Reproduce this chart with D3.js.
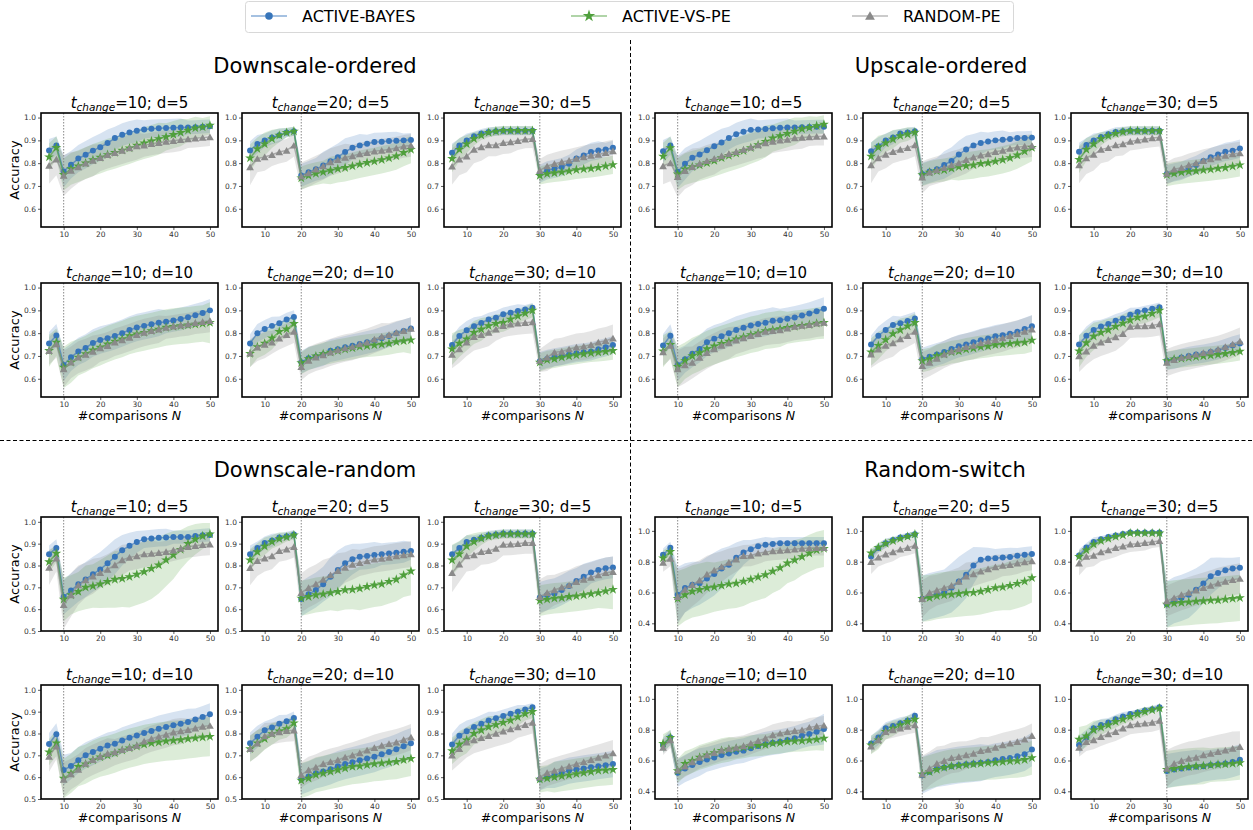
<!DOCTYPE html>
<html><head><meta charset="utf-8">
<script src="https://cdn.jsdelivr.net/npm/d3@7"></script>
<style>body{margin:0;background:#fff}svg{display:block}text{font-family:"DejaVu Sans",sans-serif}</style>
</head><body><svg id="c" width="1253" height="830"></svg>
<script>
// ---------- categories / ticks ----------
const N_VALUES = [6,8,10,12,14,16,18,20,22,24,26,28,30,32,34,36,38,40,42,44,46,48,50];
const SERIES = ["ACTIVE-BAYES","ACTIVE-VS-PE","RANDOM-PE"];
const GROUPS = ["Downscale-ordered","Upscale-ordered","Downscale-random","Random-switch"];
const T_CHANGE = [10,20,30];
const D_VALUES = [5,10];
const X_TICKS = [10,20,30,40,50];
const Y_TICKS_ORD = [0.6,0.7,0.8,0.9,1.0];
const Y_TICKS_DR = [0.5,0.6,0.7,0.8,0.9,1.0];
const Y_TICKS_RS = [0.4,0.6,0.8,1.0];

// ---------- Downscale-ordered (means) ----------
const do10d5_b=[.856,.877,.764,.793,.82,.837,.855,.87,.888,.91,.925,.935,.942,.948,.951,.953,.954,.955,.956,.957,.958,.96,.962];
const do10d5_v=[.827,.868,.75,.775,.787,.8,.814,.825,.837,.846,.856,.866,.878,.888,.897,.907,.915,.925,.934,.944,.954,.958,.966];
const do10d5_r=[.79,.817,.746,.768,.783,.8,.812,.824,.837,.846,.856,.866,.875,.878,.885,.89,.895,.898,.903,.906,.909,.912,.915];
const do20d5_b=[.856,.884,.9,.913,.922,.934,.94,.746,.76,.773,.79,.808,.826,.849,.868,.878,.885,.893,.894,.897,.898,.9,.902];
const do20d5_v=[.822,.863,.884,.907,.922,.934,.94,.735,.746,.754,.761,.768,.775,.78,.787,.795,.802,.808,.815,.822,.831,.846,.86];
const do20d5_r=[.783,.82,.827,.837,.849,.856,.878,.743,.757,.773,.787,.805,.815,.825,.831,.84,.846,.852,.856,.86,.866,.874,.878];
const do30d5_b=[.846,.878,.9,.918,.93,.937,.94,.942,.942,.942,.942,.942,.753,.768,.775,.783,.797,.82,.834,.849,.856,.86,.868];
const do30d5_v=[.82,.86,.884,.907,.922,.934,.94,.943,.943,.943,.943,.943,.746,.753,.757,.761,.765,.771,.774,.777,.781,.787,.793];
const do30d5_r=[.786,.817,.83,.86,.871,.88,.88,.89,.893,.898,.905,.907,.768,.787,.797,.805,.812,.82,.827,.834,.838,.846,.853];
const do10d10_b=[.755,.79,.66,.694,.72,.735,.757,.77,.778,.788,.8,.814,.825,.832,.839,.846,.85,.856,.862,.87,.879,.888,.9];
const do10d10_v=[.723,.76,.65,.672,.694,.709,.726,.738,.752,.764,.774,.788,.796,.803,.81,.817,.825,.829,.832,.835,.839,.842,.846];
const do10d10_r=[.723,.752,.643,.672,.694,.706,.72,.735,.745,.76,.77,.781,.793,.803,.81,.817,.825,.83,.835,.839,.846,.85,.854];
const do20d10_b=[.755,.8,.818,.832,.843,.86,.871,.673,.69,.697,.706,.723,.73,.738,.745,.752,.76,.767,.778,.788,.8,.81,.82];
const do20d10_v=[.71,.74,.755,.778,.807,.818,.842,.67,.687,.699,.709,.716,.723,.729,.735,.741,.745,.748,.751,.755,.762,.766,.77];
const do20d10_r=[.712,.738,.75,.76,.778,.793,.807,.653,.68,.694,.704,.716,.726,.735,.741,.752,.76,.773,.785,.793,.803,.81,.82];
const do30d10_b=[.748,.788,.813,.83,.845,.86,.868,.883,.89,.897,.904,.912,.677,.687,.694,.699,.706,.712,.716,.72,.73,.738,.748];
const do30d10_v=[.73,.755,.774,.803,.817,.832,.842,.846,.861,.875,.887,.9,.672,.683,.687,.694,.699,.704,.709,.713,.716,.719,.723];
const do30d10_r=[.706,.73,.76,.784,.793,.803,.817,.832,.839,.843,.846,.849,.68,.694,.716,.72,.73,.738,.742,.749,.76,.767,.778];
// Downscale-ordered (band half-widths, hundredths)
const do10d5_sb=[5,4,7,6,6,6,6,6,6,5,5,5,5,4,4,4,4,4,4,3,3,3,3];
const do10d5_sv=[6,5,7,7,7,7,7,7,7,7,7,7,7,7,7,7,6,6,6,5,5,4,4];
const do10d5_sr=[8,7,9,8,7,7,7,6,6,6,6,6,6,5,5,5,5,5,5,4,4,4,4];
const do20d5_sb=[4,4,3,3,3,2,2,5,5,5,6,6,6,6,5,5,4,4,4,4,4,3,3];
const do20d5_sv=[6,5,5,4,3,2,2,5,5,5,5,6,6,6,6,6,6,6,6,6,6,6,6];
const do20d5_sr=[8,6,6,5,5,5,5,6,6,6,6,6,6,6,5,5,5,5,5,5,5,5,5];
const do30d5_sb=[4,3,3,2,2,2,2,2,2,2,2,2,4,4,4,4,4,4,4,4,4,3,3];
const do30d5_sv=[6,5,4,3,2,2,2,2,2,2,2,2,4,4,4,4,4,4,4,4,4,4,4];
const do30d5_sr=[8,7,7,6,6,5,5,5,5,4,4,4,5,5,5,5,5,5,5,5,5,5,5];
const do10d10_sb=[5,5,7,6,6,6,6,6,6,6,6,6,6,6,6,6,5,5,5,5,5,5,5];
const do10d10_sv=[7,6,9,9,8,8,8,8,8,8,8,8,8,8,8,8,8,8,8,8,8,8,9];
const do10d10_sr=[6,6,8,7,7,7,7,6,6,6,6,6,6,6,6,6,5,5,5,5,5,5,5];
const do20d10_sb=[4,4,4,4,3,3,3,5,5,5,5,5,5,5,5,5,5,5,5,5,5,5,5];
const do20d10_sv=[6,5,5,5,4,4,4,5,5,5,5,5,5,5,5,5,5,5,5,5,5,5,6];
const do20d10_sr=[6,6,6,5,5,5,5,6,6,6,6,6,6,6,6,6,6,6,6,5,5,5,5];
const do30d10_sb=[4,4,4,4,3,3,3,3,3,3,2,2,4,4,4,4,4,4,4,4,4,4,4];
const do30d10_sv=[7,6,5,5,5,4,4,4,4,3,3,3,4,4,4,4,4,4,4,4,4,4,4];
const do30d10_sr=[6,6,6,6,6,6,5,5,5,5,5,5,5,6,6,6,6,6,6,6,6,6,6];

// ---------- Upscale-ordered ----------
const uo10d5_b=[.852,.877,.762,.797,.824,.838,.857,.874,.891,.91,.927,.938,.946,.948,.95,.953,.955,.956,.957,.958,.959,.96,.96];
const uo10d5_v=[.83,.867,.752,.774,.784,.792,.801,.811,.823,.833,.843,.854,.867,.88,.895,.91,.92,.93,.94,.95,.956,.964,.97];
const uo10d5_r=[.788,.801,.74,.767,.784,.798,.81,.82,.831,.841,.85,.86,.87,.88,.888,.895,.9,.904,.91,.913,.915,.917,.918];
const uo20d5_b=[.852,.874,.9,.913,.93,.935,.94,.752,.763,.773,.792,.81,.838,.86,.878,.888,.895,.9,.903,.906,.91,.91,.912];
const uo20d5_v=[.83,.87,.888,.905,.92,.927,.935,.749,.76,.766,.77,.777,.784,.788,.792,.798,.801,.808,.815,.823,.835,.852,.868];
const uo20d5_r=[.792,.823,.838,.85,.86,.867,.88,.738,.76,.77,.78,.792,.801,.815,.826,.835,.84,.85,.856,.864,.87,.874,.877];
const uo30d5_b=[.85,.88,.9,.915,.927,.937,.94,.942,.942,.942,.942,.942,.752,.76,.766,.78,.792,.81,.826,.838,.85,.855,.864];
const uo30d5_v=[.816,.86,.884,.907,.92,.93,.937,.942,.942,.942,.942,.942,.749,.755,.76,.763,.766,.77,.773,.777,.78,.786,.792];
const uo30d5_r=[.792,.823,.838,.86,.867,.88,.884,.895,.9,.905,.91,.913,.755,.773,.78,.792,.801,.811,.818,.826,.833,.84,.844];
const uo10d10_b=[.746,.789,.66,.686,.71,.731,.76,.776,.786,.8,.814,.824,.834,.84,.846,.854,.857,.863,.869,.877,.886,.896,.907];
const uo10d10_v=[.721,.75,.653,.679,.7,.714,.731,.743,.754,.764,.774,.783,.793,.8,.81,.814,.819,.824,.829,.833,.837,.843,.846];
const uo10d10_r=[.717,.746,.643,.66,.671,.693,.714,.731,.746,.757,.769,.779,.789,.797,.807,.811,.814,.821,.829,.833,.837,.843,.847];
const uo20d10_b=[.75,.789,.814,.836,.843,.853,.864,.686,.697,.707,.717,.731,.743,.75,.76,.769,.777,.786,.791,.797,.806,.818,.83];
const uo20d10_v=[.717,.746,.771,.797,.814,.831,.846,.679,.686,.7,.707,.717,.721,.729,.734,.74,.743,.749,.751,.754,.757,.76,.769];
const uo20d10_r=[.707,.729,.746,.757,.774,.789,.807,.657,.671,.689,.707,.721,.731,.74,.746,.757,.764,.771,.779,.789,.797,.807,.817];
const uo30d10_b=[.75,.789,.814,.829,.84,.854,.864,.881,.893,.9,.907,.914,.679,.683,.693,.7,.706,.71,.717,.724,.735,.746,.755];
const uo30d10_v=[.721,.757,.786,.803,.814,.829,.843,.857,.869,.874,.886,.9,.679,.686,.689,.693,.696,.7,.703,.706,.71,.715,.72];
const uo30d10_r=[.7,.721,.746,.76,.771,.783,.797,.829,.831,.831,.834,.84,.671,.683,.693,.7,.707,.714,.721,.729,.74,.752,.765];
const uo10d5_sb=[5,4,7,7,6,6,6,6,6,5,5,5,5,4,4,4,4,4,3,3,3,3,3];
const uo10d5_sv=[6,5,7,7,7,7,7,7,7,7,7,7,7,7,7,6,6,6,6,5,5,4,4];
const uo10d5_sr=[8,8,9,8,8,7,7,7,6,6,6,6,6,6,6,5,5,5,5,5,4,4,4];
const uo20d5_sb=[4,4,3,3,2,2,2,5,5,5,6,6,6,6,5,5,4,4,4,3,3,3,3];
const uo20d5_sv=[6,5,4,4,3,3,2,5,5,5,5,5,6,6,6,6,6,6,6,6,6,6,6];
const uo20d5_sr=[8,6,6,5,5,5,5,7,6,6,6,6,6,6,5,5,5,5,5,5,5,5,5];
const uo30d5_sb=[4,3,3,2,2,2,2,2,2,2,2,2,4,4,4,4,4,4,4,4,4,4,4];
const uo30d5_sv=[6,5,4,3,2,2,2,2,2,2,2,2,5,5,5,5,5,5,5,5,5,5,5];
const uo30d5_sr=[8,7,7,6,6,5,5,4,4,4,4,4,5,5,5,5,5,5,5,5,5,5,5];
const uo10d10_sb=[5,5,7,6,6,6,6,6,6,6,6,6,6,6,6,6,5,5,5,5,5,5,5];
const uo10d10_sv=[7,6,9,8,8,8,8,8,8,8,8,8,8,8,8,8,8,7,7,7,7,7,7];
const uo10d10_sr=[6,6,8,8,7,7,7,7,7,7,6,6,6,6,6,6,6,6,6,6,6,6,6];
const uo20d10_sb=[4,4,4,4,3,3,3,5,5,5,5,5,5,5,5,5,5,5,5,5,5,5,5];
const uo20d10_sv=[6,6,5,5,5,4,4,5,5,5,5,5,5,5,5,5,5,5,5,5,5,5,5];
const uo20d10_sr=[6,6,6,6,5,5,5,6,6,6,6,6,6,6,6,6,6,6,6,6,6,6,6];
const uo30d10_sb=[4,4,4,3,3,3,3,3,2,2,2,2,4,4,4,4,4,4,4,4,4,4,4];
const uo30d10_sv=[7,6,6,5,5,4,4,4,3,3,3,3,4,4,4,4,4,4,4,4,4,4,4];
const uo30d10_sr=[7,6,6,6,6,6,5,5,5,5,5,5,6,6,6,6,6,6,6,6,6,6,6];

// ---------- Downscale-random ----------
const dr10d5_b=[.852,.88,.657,.685,.714,.736,.76,.782,.81,.84,.87,.89,.908,.92,.924,.927,.928,.93,.93,.93,.935,.938,.94];
const dr10d5_v=[.817,.855,.645,.665,.68,.7,.706,.715,.726,.736,.74,.748,.759,.771,.786,.802,.825,.848,.873,.9,.92,.935,.944];
const dr10d5_r=[.791,.833,.62,.665,.71,.733,.751,.767,.782,.802,.825,.837,.843,.852,.855,.858,.863,.87,.878,.886,.89,.895,.897];
const dr20d5_b=[.852,.88,.903,.915,.928,.934,.942,.647,.668,.688,.714,.748,.779,.81,.829,.84,.843,.848,.852,.855,.858,.863,.866];
const dr20d5_v=[.825,.862,.888,.908,.922,.93,.939,.65,.657,.665,.669,.675,.68,.688,.69,.695,.703,.71,.715,.726,.736,.756,.774];
const dr20d5_r=[.79,.822,.833,.843,.867,.874,.886,.675,.698,.715,.736,.756,.776,.791,.805,.812,.82,.828,.832,.837,.843,.848,.852];
const dr30d5_b=[.852,.88,.908,.918,.927,.939,.942,.946,.946,.946,.946,.946,.654,.665,.672,.688,.706,.729,.748,.768,.779,.787,.791];
const dr30d5_v=[.825,.852,.888,.908,.924,.934,.939,.944,.944,.944,.944,.944,.639,.645,.65,.652,.657,.66,.665,.67,.675,.683,.69];
const dr30d5_r=[.767,.806,.843,.848,.863,.867,.878,.896,.897,.9,.904,.904,.657,.675,.688,.7,.71,.726,.736,.745,.756,.767,.771];
const dr10d10_b=[.752,.797,.633,.651,.678,.7,.715,.73,.745,.753,.768,.78,.791,.802,.811,.822,.83,.838,.845,.853,.864,.876,.888];
const dr10d10_v=[.715,.756,.594,.617,.648,.66,.678,.692,.7,.71,.723,.733,.741,.75,.756,.76,.765,.768,.771,.776,.779,.783,.786];
const dr10d10_r=[.695,.741,.589,.614,.635,.663,.68,.695,.708,.715,.726,.735,.745,.764,.776,.786,.795,.806,.811,.817,.824,.832,.836];
const dr20d10_b=[.755,.785,.815,.827,.845,.856,.871,.591,.603,.618,.626,.636,.65,.66,.668,.677,.685,.693,.705,.715,.728,.742,.755];
const dr20d10_v=[.73,.756,.776,.798,.811,.821,.848,.585,.595,.611,.618,.626,.633,.641,.648,.651,.656,.661,.664,.668,.671,.679,.685];
const dr20d10_r=[.73,.755,.788,.8,.807,.812,.815,.611,.633,.645,.661,.671,.679,.691,.7,.711,.723,.735,.745,.753,.76,.771,.783];
const dr30d10_b=[.75,.79,.81,.83,.845,.86,.87,.88,.89,.9,.91,.92,.59,.6,.61,.62,.63,.635,.64,.645,.65,.655,.66];
const dr30d10_v=[.72,.75,.77,.8,.815,.83,.84,.85,.86,.875,.89,.9,.59,.595,.6,.605,.61,.615,.62,.625,.63,.632,.635];
const dr30d10_r=[.7,.73,.76,.77,.78,.79,.8,.81,.82,.83,.84,.85,.6,.62,.63,.64,.65,.66,.67,.68,.69,.7,.71];
const dr10d5_sb=[4,4,8,8,8,8,8,8,8,8,7,6,5,4,4,4,4,3,3,3,3,3,3];
const dr10d5_sv=[5,4,10,9,9,10,10,11,12,13,13,14,14,14,14,13,12,11,9,8,7,6,5];
const dr10d5_sr=[8,6,11,10,9,8,8,7,7,7,7,6,6,6,6,5,5,5,5,5,5,5,5];
const dr20d5_sb=[4,3,3,3,2,2,2,8,8,8,8,9,9,8,7,6,6,6,5,5,5,5,4];
const dr20d5_sv=[5,4,4,3,3,2,2,8,8,8,8,8,9,9,9,10,10,10,10,10,10,10,11];
const dr20d5_sr=[8,7,6,6,5,5,5,9,9,9,9,8,8,7,7,6,6,6,6,6,6,6,6];
const dr30d5_sb=[4,3,3,2,2,2,2,2,2,2,2,2,7,7,7,7,7,6,6,5,5,5,5];
const dr30d5_sv=[7,6,5,4,3,2,2,2,2,2,2,2,7,7,7,7,7,7,7,7,7,8,9];
const dr30d5_sr=[9,8,7,7,6,6,6,5,5,5,5,5,8,8,7,7,7,7,7,7,7,7,7];
const dr10d10_sb=[5,5,7,6,6,6,6,6,6,6,6,6,6,6,6,6,6,6,6,6,5,5,5];
const dr10d10_sv=[6,6,9,9,9,9,9,9,9,9,9,9,9,9,9,9,9,9,9,9,9,9,9];
const dr10d10_sr=[7,6,8,7,7,7,7,7,7,6,6,6,6,6,6,6,6,6,6,5,5,5,5];
const dr20d10_sb=[5,5,4,4,4,3,3,7,7,7,7,7,7,7,7,7,7,7,7,7,7,7,7];
const dr20d10_sv=[6,6,5,5,4,4,4,8,8,8,8,8,8,8,8,8,8,8,8,8,8,8,8];
const dr20d10_sr=[6,6,6,5,5,5,5,6,6,6,6,6,6,6,6,6,6,6,6,6,6,6,6];
const dr30d10_sb=[5,5,5,4,4,4,3,3,3,3,2,2,5,5,6,6,6,6,6,6,6,6,6];
const dr30d10_sv=[6,6,6,5,5,5,4,4,4,4,3,3,6,6,7,7,7,7,7,7,7,7,7];
const dr30d10_sr=[7,7,7,6,6,6,6,6,6,5,5,5,6,6,6,6,6,6,6,6,6,6,6];

// ---------- Random-switch ----------
const rs10d5_b=[.845,.89,.585,.63,.65,.66,.69,.72,.755,.78,.825,.86,.88,.9,.91,.915,.92,.92,.92,.92,.92,.92,.92];
const rs10d5_v=[.823,.865,.56,.585,.607,.618,.63,.635,.645,.655,.66,.672,.685,.7,.715,.737,.76,.79,.81,.832,.855,.875,.885];
const rs10d5_r=[.795,.82,.572,.62,.65,.68,.718,.745,.768,.795,.815,.838,.84,.855,.862,.87,.873,.875,.88,.885,.888,.89,.89];
const rs20d5_b=[.833,.888,.92,.94,.957,.967,.978,.56,.577,.588,.6,.63,.672,.715,.775,.813,.82,.823,.827,.83,.838,.845,.85];
const rs20d5_v=[.855,.892,.918,.935,.95,.963,.978,.56,.565,.577,.583,.588,.592,.598,.6,.607,.618,.63,.635,.645,.658,.672,.695];
const rs20d5_r=[.8,.828,.848,.863,.88,.89,.905,.56,.598,.615,.63,.645,.672,.705,.72,.737,.752,.765,.775,.78,.79,.797,.805];
const rs30d5_b=[.84,.892,.928,.945,.96,.97,.98,.99,.99,.99,.99,.99,.523,.55,.565,.585,.618,.658,.705,.727,.745,.755,.76];
const rs30d5_v=[.833,.875,.913,.935,.95,.963,.972,.985,.985,.985,.985,.985,.523,.53,.534,.538,.543,.545,.549,.55,.556,.56,.565];
const rs30d5_r=[.79,.833,.84,.863,.875,.89,.9,.913,.917,.923,.928,.935,.545,.565,.585,.6,.615,.63,.645,.66,.672,.682,.69];
const rs10d10_b=[.70,.75,.52,.548,.57,.59,.607,.62,.635,.646,.657,.664,.68,.694,.707,.715,.722,.733,.744,.76,.772,.787,.804];
const rs10d10_v=[.71,.748,.532,.58,.598,.62,.635,.65,.664,.672,.678,.685,.694,.698,.702,.711,.715,.722,.726,.728,.733,.737,.744];
const rs10d10_r=[.685,.733,.537,.563,.59,.62,.635,.65,.667,.678,.685,.694,.711,.728,.744,.765,.776,.787,.793,.798,.815,.822,.828];
const rs20d10_b=[.71,.75,.809,.824,.841,.859,.89,.504,.526,.548,.554,.563,.57,.576,.58,.585,.591,.602,.609,.617,.628,.641,.672];
const rs20d10_v=[.70,.733,.787,.809,.83,.852,.867,.511,.526,.541,.554,.563,.567,.572,.576,.58,.585,.587,.591,.596,.598,.605,.617];
const rs20d10_r=[.693,.733,.787,.798,.809,.82,.83,.511,.548,.58,.598,.617,.624,.635,.646,.663,.672,.685,.7,.711,.722,.737,.76];
const rs30d10_b=[.70,.75,.809,.83,.846,.867,.885,.902,.911,.924,.933,.946,.532,.541,.548,.554,.559,.563,.57,.576,.58,.591,.605];
const rs30d10_v=[.737,.759,.798,.815,.83,.852,.867,.885,.902,.917,.928,.939,.541,.548,.554,.559,.563,.565,.57,.574,.576,.58,.585];
const rs30d10_r=[.685,.722,.733,.754,.772,.787,.809,.83,.837,.841,.846,.859,.548,.58,.598,.613,.62,.635,.646,.657,.667,.678,.689];
const rs10d5_sb=[4,4,18,16,15,14,14,14,13,12,10,8,6,5,5,4,4,4,4,4,4,4,4];
const rs10d5_sv=[5,4,18,17,17,17,17,16,16,16,16,16,15,15,15,14,14,13,13,12,12,12,12];
const rs10d5_sr=[6,5,18,15,14,13,12,11,10,9,8,7,7,7,6,6,6,6,6,5,5,5,5];
const rs20d5_sb=[4,3,3,2,2,2,2,15,15,15,15,16,16,15,12,8,7,6,6,6,5,5,5];
const rs20d5_sv=[3,3,3,2,2,2,2,15,15,15,15,15,15,15,15,15,15,15,15,16,16,16,16];
const rs20d5_sr=[8,6,6,6,5,5,5,12,11,10,10,10,9,9,8,8,8,8,7,7,7,6,6];
const rs30d5_sb=[4,3,3,2,2,2,1,1,1,1,1,1,15,15,15,15,14,13,12,10,8,7,7];
const rs30d5_sv=[4,3,3,2,2,2,1,1,1,1,1,1,15,15,15,15,15,15,15,15,15,15,15];
const rs30d5_sr=[8,7,7,6,6,6,5,5,5,5,4,4,10,10,10,10,10,10,10,10,10,10,10];
const rs10d10_sb=[5,5,9,9,9,9,8,8,8,8,8,8,8,8,8,8,8,8,8,8,8,9,10];
const rs10d10_sv=[6,5,8,8,8,8,8,8,8,8,7,7,7,7,7,7,7,7,7,7,7,7,8];
const rs10d10_sr=[5,5,7,7,7,7,7,7,7,7,7,7,7,7,7,7,7,7,6,6,6,6,6];
const rs20d10_sb=[5,5,4,4,4,3,3,12,12,12,12,12,12,12,12,12,11,11,11,11,11,11,11];
const rs20d10_sv=[6,6,5,5,4,4,4,11,11,11,11,11,11,11,11,11,11,11,11,11,11,11,11];
const rs20d10_sr=[5,5,5,5,5,5,5,12,11,11,10,10,10,9,9,9,8,8,8,8,8,8,8];
const rs30d10_sb=[6,5,4,4,3,3,3,2,2,2,2,2,11,11,11,11,11,10,10,10,10,10,10];
const rs30d10_sv=[8,7,6,5,4,4,3,3,3,3,2,2,12,12,12,12,12,12,11,11,11,11,11];
const rs30d10_sr=[6,6,6,6,6,6,6,6,6,6,6,6,12,11,11,11,11,11,11,11,11,11,10];

// ---------- table built from the arrays: [group][d-row][t-col] ----------
const PANELS = [
 [[[do10d5_b,do10d5_v,do10d5_r,do10d5_sb,do10d5_sv,do10d5_sr],[do20d5_b,do20d5_v,do20d5_r,do20d5_sb,do20d5_sv,do20d5_sr],[do30d5_b,do30d5_v,do30d5_r,do30d5_sb,do30d5_sv,do30d5_sr]],
  [[do10d10_b,do10d10_v,do10d10_r,do10d10_sb,do10d10_sv,do10d10_sr],[do20d10_b,do20d10_v,do20d10_r,do20d10_sb,do20d10_sv,do20d10_sr],[do30d10_b,do30d10_v,do30d10_r,do30d10_sb,do30d10_sv,do30d10_sr]]],
 [[[uo10d5_b,uo10d5_v,uo10d5_r,uo10d5_sb,uo10d5_sv,uo10d5_sr],[uo20d5_b,uo20d5_v,uo20d5_r,uo20d5_sb,uo20d5_sv,uo20d5_sr],[uo30d5_b,uo30d5_v,uo30d5_r,uo30d5_sb,uo30d5_sv,uo30d5_sr]],
  [[uo10d10_b,uo10d10_v,uo10d10_r,uo10d10_sb,uo10d10_sv,uo10d10_sr],[uo20d10_b,uo20d10_v,uo20d10_r,uo20d10_sb,uo20d10_sv,uo20d10_sr],[uo30d10_b,uo30d10_v,uo30d10_r,uo30d10_sb,uo30d10_sv,uo30d10_sr]]],
 [[[dr10d5_b,dr10d5_v,dr10d5_r,dr10d5_sb,dr10d5_sv,dr10d5_sr],[dr20d5_b,dr20d5_v,dr20d5_r,dr20d5_sb,dr20d5_sv,dr20d5_sr],[dr30d5_b,dr30d5_v,dr30d5_r,dr30d5_sb,dr30d5_sv,dr30d5_sr]],
  [[dr10d10_b,dr10d10_v,dr10d10_r,dr10d10_sb,dr10d10_sv,dr10d10_sr],[dr20d10_b,dr20d10_v,dr20d10_r,dr20d10_sb,dr20d10_sv,dr20d10_sr],[dr30d10_b,dr30d10_v,dr30d10_r,dr30d10_sb,dr30d10_sv,dr30d10_sr]]],
 [[[rs10d5_b,rs10d5_v,rs10d5_r,rs10d5_sb,rs10d5_sv,rs10d5_sr],[rs20d5_b,rs20d5_v,rs20d5_r,rs20d5_sb,rs20d5_sv,rs20d5_sr],[rs30d5_b,rs30d5_v,rs30d5_r,rs30d5_sb,rs30d5_sv,rs30d5_sr]],
  [[rs10d10_b,rs10d10_v,rs10d10_r,rs10d10_sb,rs10d10_sv,rs10d10_sr],[rs20d10_b,rs20d10_v,rs20d10_r,rs20d10_sb,rs20d10_sv,rs20d10_sr],[rs30d10_b,rs30d10_v,rs30d10_r,rs30d10_sb,rs30d10_sv,rs30d10_sr]]]
];

// ---------- styling / layout ----------
const COLORS = ["#3775ba","#4f9f3c","#8a8a8a"];
const SYMBOLS = [d3.symbolCircle, d3.symbolStar, d3.symbolTriangle];
const SYM_SIZE = [28, 30, 26];
const W = 177, H = 114;
const LAYOUT = [
  {cols:[41,242,444], rows:[113,283], cx:315, ty:73, ylab:true},
  {cols:[655,863,1071], rows:[113,283], cx:941, ty:73, ylab:false},
  {cols:[41,242,444], rows:[517,685], cx:315, ty:477, ylab:true},
  {cols:[655,863,1071], rows:[517,685], cx:945, ty:477, ylab:false}
];
const Y_DOMAINS = [[0.52,1.02],[0.52,1.02],[0.5,1.022],[0.35,1.09]];
const Y_TICKS = [Y_TICKS_ORD, Y_TICKS_ORD, Y_TICKS_DR, Y_TICKS_RS];

const svg = d3.select("#c");
svg.append("rect").attr("width",1253).attr("height",830).attr("fill","#fff");

// dividers (crisp, on half-pixels)
svg.append("line").attr("x1",630.5).attr("x2",630.5).attr("y1",40).attr("y2",830)
  .attr("stroke","#000").attr("stroke-width",1).attr("stroke-dasharray","4,2.5");
svg.append("line").attr("x1",0).attr("x2",1253).attr("y1",440.5).attr("y2",440.5)
  .attr("stroke","#000").attr("stroke-width",1).attr("stroke-dasharray","4,2.5");

let clipId = 0;
GROUPS.forEach((gName, g) => {
  const L = LAYOUT[g];
  svg.append("text").attr("x",L.cx).attr("y",L.ty).attr("text-anchor","middle")
    .attr("font-size",21).attr("fill","#000").text(gName);
  D_VALUES.forEach((dv, r) => {
    T_CHANGE.forEach((tc, c) => {
      const arr = PANELS[g][r][c];
      const x0 = L.cols[c], y0 = L.rows[r];
      const p = svg.append("g").attr("transform",`translate(${x0},${y0})`);
      const x = d3.scaleLinear().domain([3.8,52.2]).range([0,W]);
      const y = d3.scaleLinear().domain(Y_DOMAINS[g]).range([H,0]);
      const id = "clip"+(clipId++);
      p.append("clipPath").attr("id",id).append("rect").attr("width",W).attr("height",H);
      const plot = p.append("g").attr("clip-path",`url(#${id})`);
      for (let k=0;k<3;k++){
        const m = arr[k], s = arr[k+3];
        const area = d3.area().x((d,i)=>x(N_VALUES[i])).y0((d,i)=>y(d - s[i]/100)).y1((d,i)=>y(d + s[i]/100));
        plot.append("path").datum(m).attr("d",area).attr("fill",COLORS[k]).attr("fill-opacity",k===2?0.22:0.2);
      }
      plot.append("line").attr("x1",x(tc)).attr("x2",x(tc)).attr("y1",0).attr("y2",H)
        .attr("stroke","#888").attr("stroke-width",1).attr("stroke-dasharray","1.5,1.5");
      for (let k=0;k<3;k++){
        const m = arr[k];
        const line = d3.line().x((d,i)=>x(N_VALUES[i])).y(d=>y(d));
        plot.append("path").datum(m).attr("d",line).attr("fill","none")
          .attr("stroke",COLORS[k]).attr("stroke-opacity",0.65).attr("stroke-width",1.5);
        const sym = d3.symbol().type(SYMBOLS[k]).size(SYM_SIZE[k]);
        plot.selectAll(null).data(m).enter().append("path")
          .attr("transform",(d,i)=>`translate(${x(N_VALUES[i])},${y(d) + (k===2?1:0)})`)
          .attr("d",sym).attr("fill",COLORS[k]);
      }
      const ya = p.append("g").call(d3.axisLeft(y).tickValues(Y_TICKS[g]).tickSize(3).tickPadding(2).tickFormat(d3.format(".1f")));
      const xa = p.append("g").attr("transform",`translate(0,${H})`).call(d3.axisBottom(x).tickValues(X_TICKS).tickSize(3).tickPadding(2).tickFormat(d3.format("d")));
      [ya,xa].forEach(a=>{
        a.select(".domain").remove();
        a.selectAll("text").attr("font-size",7.5).attr("fill","#333").attr("font-family","DejaVu Sans");
        a.selectAll("line").attr("stroke","#333").attr("stroke-width",0.8);
      });
      p.append("rect").attr("width",W).attr("height",H).attr("fill","none").attr("stroke","#000").attr("stroke-width",1.6);
      const t = p.append("text").attr("x",W/2).attr("y",-5).attr("text-anchor","middle").attr("font-size",15).attr("fill","#000");
      t.append("tspan").attr("font-style","italic").text("t");
      t.append("tspan").attr("font-style","italic").attr("font-size",10.5).attr("dy",3).text("change");
      t.append("tspan").attr("dy",-3).text(`=${tc}; d=${dv}`);
      if (r === 1) {
        const xl = p.append("text").attr("x",W/2).attr("y",H+23).attr("text-anchor","middle").attr("font-size",12.5).attr("fill","#000");
        xl.append("tspan").text("#comparisons ");
        xl.append("tspan").attr("font-style","italic").text("N");
      }
      if (c === 0 && L.ylab) {
        svg.append("text").attr("transform",`translate(19,${y0+H/2}) rotate(-90)`).attr("text-anchor","middle")
          .attr("font-size",13).attr("fill","#000").text("Accuracy");
      }
    });
  });
});

// legend
const lg = svg.append("g");
lg.append("rect").attr("x",245.5).attr("y",1.5).attr("width",768).attr("height",31).attr("rx",3)
  .attr("fill","#fff").attr("stroke","#d8d8d8").attr("stroke-width",1);
const LEG_X = [251, 571, 852];
SERIES.forEach((name,k)=>{
  const lx = LEG_X[k];
  lg.append("line").attr("x1",lx).attr("x2",lx+36).attr("y1",16).attr("y2",16)
    .attr("stroke",COLORS[k]).attr("stroke-opacity",0.6).attr("stroke-width",1.5);
  lg.append("path").attr("transform",`translate(${lx+18},${16+(k===2?1:0)})`)
    .attr("d",d3.symbol().type(SYMBOLS[k]).size(SYM_SIZE[k]*1.6)).attr("fill",COLORS[k]);
  lg.append("text").attr("x",lx+51).attr("y",22).attr("font-size",16).attr("fill","#000").text(name);
});
</script>
</body></html>
